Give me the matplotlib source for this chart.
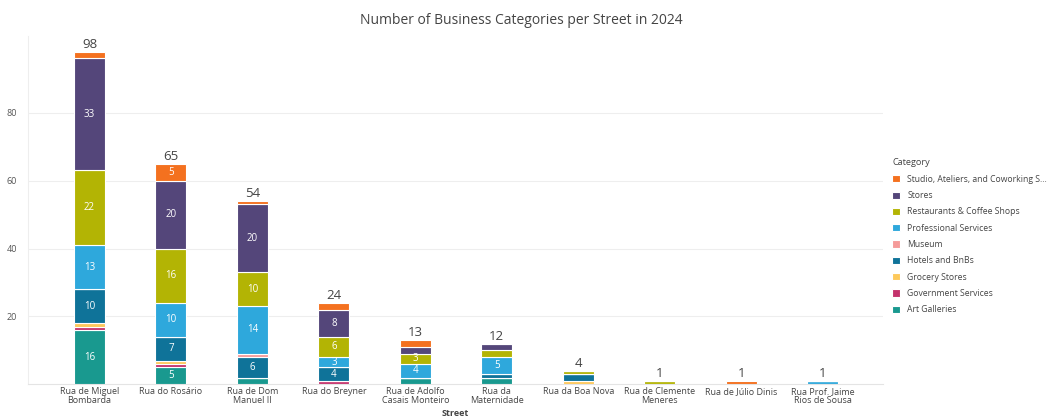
import matplotlib.pyplot as plt
import numpy as np

plt.rcParams['font.family'] = ['Open Sans', 'DejaVu Sans']

streets = ["Rua de Miguel\nBombarda", "Rua do Rosário", "Rua de Dom\nManuel II",
           "Rua do Breyner", "Rua de Adolfo\nCasais Monteiro", "Rua da\nMaternidade",
           "Rua da Boa Nova", "Rua de Clemente\nMeneres", "Rua de Júlio Dinis",
           "Rua Prof. Jaime\nRios de Sousa"]

# stacked bottom to top
categories = ["Art Galleries", "Government Services", "Grocery Stores", "Hotels and BnBs",
              "Museum", "Professional Services", "Restaurants & Coffee Shops", "Stores",
              "Studio, Ateliers, and Coworking S..."]

art_galleries = [16, 5, 2, 0, 2, 2, 0, 0, 0, 0]
government = [1, 1, 0, 1, 0, 0, 0, 0, 0, 0]
grocery = [1, 1, 0, 0, 0, 0, 1, 0, 0, 0]
hotels = [10, 7, 6, 4, 0, 1, 2, 0, 0, 0]
museum = [0, 0, 1, 0, 0, 0, 0, 0, 0, 0]
professional = [13, 10, 14, 3, 4, 5, 0, 0, 0, 1]
restaurants = [22, 16, 10, 6, 3, 2, 1, 1, 0, 0]
stores = [33, 20, 20, 8, 2, 2, 0, 0, 0, 0]
studio = [2, 5, 1, 2, 2, 0, 0, 0, 1, 0]

series = [art_galleries, government, grocery, hotels, museum,
          professional, restaurants, stores, studio]
colors = ["#19998F", "#C4336C", "#FDC95B", "#0F7399", "#F59B9A",
          "#2EA8DC", "#B3B404", "#54467A", "#F4711F"]

fig = plt.figure(figsize=(10.47, 4.19), dpi=100)
ax = fig.add_axes([28 / 1047, 34.7 / 419, (883 - 28) / 1047, (384.3 - 36) / 419])

x = np.arange(len(streets))
bottom = np.zeros(len(streets))
handles = []
for name, vals, col in zip(categories, series, colors):
    vals = np.array(vals, dtype=float)
    b = ax.bar(x, vals, 0.38, bottom=bottom, color=col, edgecolor='white',
               linewidth=0.8, label=name, zorder=3)
    handles.append(b)
    for xi, v, b0 in zip(x, vals, bottom):
        if v >= 3:
            ax.text(xi, b0 + v / 2, f"{int(v)}", ha='center', va='center',
                    color='white', fontsize=7, zorder=4)
    bottom += vals

for xi, tot in zip(x, bottom):
    ax.text(xi, tot + 0.3, f"{int(tot)}", ha='center', va='bottom',
            color='#444444', fontsize=9.5, zorder=4)

ax.set_xlim(-0.755, 9.74)
ax.set_ylim(0, 102.6)
ax.set_yticks([20, 40, 60, 80])
ax.set_xticks(x)
ax.set_xticklabels(streets, fontsize=6.5, color='#444444', linespacing=0.95)
ax.tick_params(axis='y', labelsize=6.5, labelcolor='#555555', length=0, pad=8)
ax.tick_params(axis='x', length=0, pad=2)
ax.grid(axis='y', color='#EEEEEE', linewidth=0.8, zorder=0)
for s in ['top', 'right']:
    ax.spines[s].set_visible(False)
ax.spines['left'].set_color('#EEEEEE')
ax.spines['bottom'].set_color('#E4E4E4')

ax.set_xlabel("Street", fontsize=6.5, color='#444444', fontweight='bold', labelpad=3)
fig.text(521 / 1047, 1 - 20 / 419, "Number of Business Categories per Street in 2024",
         ha='center', va='center', fontsize=10, color='#444444')

leg = fig.legend(handles[::-1], categories[::-1], loc='upper left',
                 bbox_to_anchor=(889 / 1047, 1 - 155 / 419), frameon=False,
                 fontsize=6.2, title="Category", title_fontsize=6.6,
                 handlelength=0.9, handleheight=0.9, handletextpad=0.8,
                 labelspacing=0.85, borderaxespad=0)
leg._legend_box.align = 'left'
for t in leg.get_texts():
    t.set_color('#444444')
leg.get_title().set_color('#444444')

fig.savefig('out.png', dpi=100)
